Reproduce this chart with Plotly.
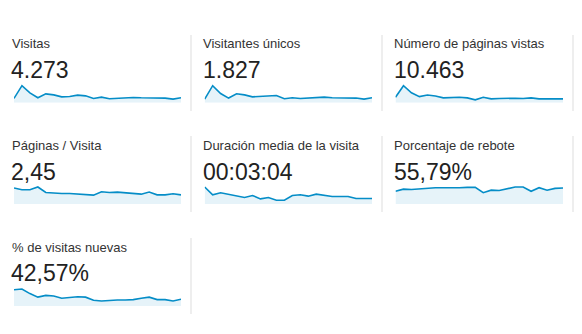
import plotly.graph_objects as go

W, H = 582, 334

titles = ["Visitas", "Visitantes únicos", "Número de páginas vistas",
          "Páginas / Visita", "Duración media de la visita", "Porcentaje de rebote",
          "% de visitas nuevas"]
totals = ["4.273", "1.827", "10.463", "2,45", "00:03:04", "55,79%", "42,57%"]

visitas = [134, 536, 309, 155, 278, 247, 185, 196, 237, 216, 134, 175, 124, 144, 165, 165, 155, 155, 155, 144, 113, 155]
visitantes_unicos = [49, 232, 125, 63, 121, 107, 80, 89, 98, 98, 54, 67, 58, 63, 67, 76, 67, 67, 67, 63, 49, 67]
paginas_vistas = [466, 1452, 849, 520, 657, 575, 411, 438, 466, 411, 247, 466, 329, 356, 383, 383, 356, 411, 329, 329, 301, 329]
paginas_visita = [3.49, 3.12, 3.12, 3.71, 2.52, 2.37, 2.30, 2.30, 2.15, 2.00, 1.93, 2.67, 2.52, 2.60, 2.45, 2.23, 2.15, 2.60, 2.00, 2.00, 2.23, 2.00]
duracion_seg = [399, 216, 263, 231, 200, 152, 200, 120, 152, 88, 88, 200, 216, 184, 231, 200, 176, 176, 176, 128, 128, 128]
rebote = [47.0, 54.8, 53.5, 56.1, 58.7, 60.0, 60.0, 58.7, 60.0, 61.3, 61.3, 41.7, 50.9, 49.6, 54.8, 62.6, 62.6, 47.0, 60.0, 50.9, 57.4, 58.7]
nuevas = [82.3, 85.8, 62.6, 44.7, 53.6, 50.1, 39.3, 44.7, 46.5, 44.7, 28.6, 25.0, 28.6, 30.4, 30.4, 32.2, 39.3, 44.7, 32.2, 32.2, 25.0, 34.0]

series = [visitas, visitantes_unicos, paginas_vistas, paginas_visita, duracion_seg, rebote, nuevas]

# layout geometry (pixels)
col_spark = [(14, 181), (204.7, 372), (395.5, 563)]
col_text = [9.7, 201.3, 392]
row_title = [43.8, 145.3, 247.2]
row_num = [70.0, 171.7, 273.3]
row_bottom = [102.7, 204.0, 306.0]
spark_h = 17.0
pad = 2.0
sep_x = [191, 382, 573]
row_sep = [(35, 111), (136, 212), (238, 314)]

LINE = "#058DC7"
FILL = "rgba(5,141,199,0.10)"
FONT = "Liberation Sans, Arial, Helvetica, sans-serif"

def px(x):
    return x / W

def py(y):
    return 1 - y / H

fig = go.Figure()
annotations = []
shapes = []
layout_axes = {}

for i, (vals, title, total) in enumerate(zip(series, titles, totals)):
    r, c = divmod(i, 3)
    k = i + 1
    xs = list(range(len(vals)))
    xa = "x" if k == 1 else f"x{k}"
    ya = "y" if k == 1 else f"y{k}"
    fig.add_trace(go.Scatter(
        x=xs, y=vals, mode="lines", xaxis=xa, yaxis=ya,
        line=dict(color=LINE, width=1.6), fill="tozeroy", fillcolor=FILL,
        hoverinfo="skip", showlegend=False))
    x0, x1 = col_spark[c]
    b = row_bottom[r]
    t = b - spark_h
    vmax = max(vals)
    top_px = t - pad
    ytop = vmax * (b - top_px) / (b - t)
    xname = "xaxis" if k == 1 else f"xaxis{k}"
    yname = "yaxis" if k == 1 else f"yaxis{k}"
    layout_axes[xname] = dict(domain=[px(x0), px(x1)], range=[0, len(vals) - 1],
                              visible=False, fixedrange=True, anchor=ya)
    layout_axes[yname] = dict(domain=[py(b), py(top_px)], range=[0, ytop],
                              visible=False, fixedrange=True, anchor=xa)
    annotations.append(dict(text=title, x=px(col_text[c]), y=py(row_title[r]),
                            xref="paper", yref="paper", xanchor="left", yanchor="middle",
                            showarrow=False, font=dict(family=FONT, size=13, color="#333333")))
    annotations.append(dict(text=total, x=px(col_text[c] - 0.5), y=py(row_num[r]),
                            xref="paper", yref="paper", xanchor="left", yanchor="middle",
                            showarrow=False, font=dict(family=FONT, size=23, color="#222222")))

for r, (y0, y1) in enumerate(row_sep):
    xs_r = sep_x if r < 2 else sep_x[:1]
    for x in xs_r:
        shapes.append(dict(type="line", xref="paper", yref="paper",
                           x0=px(x), x1=px(x), y0=py(y0), y1=py(y1),
                           line=dict(color="#DDDDDD", width=1)))

fig.update_layout(width=W, height=H, margin=dict(l=0, r=0, t=0, b=0),
                  paper_bgcolor="white", plot_bgcolor="white",
                  annotations=annotations, shapes=shapes, **layout_axes)

fig.write_html("out.html", config={"displayModeBar": False})
